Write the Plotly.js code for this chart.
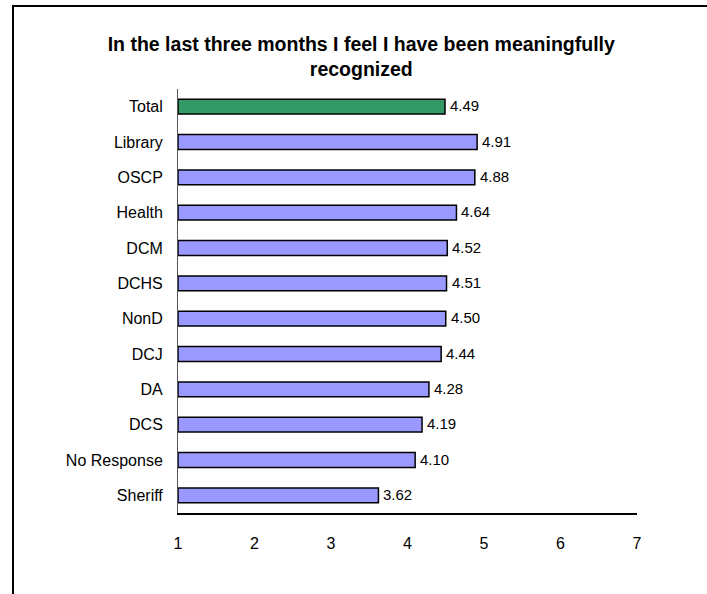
<!DOCTYPE html>
<html>
<head>
<meta charset="utf-8">
<script src="https://cdn.plot.ly/plotly-3.0.1.min.js"></script>
<style>
  html, body { margin: 0; padding: 0; background: #fff; }
  #wrap { position: relative; width: 707px; height: 594px; }
  #chart { position: absolute; left: 0; top: 0; width: 707px; height: 594px; }
  #frame { position: absolute; left: 12px; top: 5px; width: 694px; height: 600px;
           border-top: 2px solid #000; border-left: 2px solid #000; pointer-events: none; }
</style>
</head>
<body>
<div id="wrap">
  <div id="chart"></div>
  <div id="frame"></div>
</div>
<script>
const categories = ["Total", "Library", "OSCP", "Health", "DCM", "DCHS", "NonD", "DCJ", "DA", "DCS", "No Response", "Sheriff"];
const values = [4.49, 4.91, 4.88, 4.64, 4.52, 4.51, 4.50, 4.44, 4.28, 4.19, 4.10, 3.62];
const xTicks = [1, 2, 3, 4, 5, 6, 7];
const totalColor = "#339966";
const groupColor = "#9999FF";

const colors = categories.map(c => c === "Total" ? totalColor : groupColor);
const font = "Arial, 'Liberation Sans', sans-serif";

const trace = {
  type: "bar",
  orientation: "h",
  y: categories,
  base: 1,
  x: values.map(v => v - 1),
  width: 0.42,
  marker: { color: colors, line: { color: "#000", width: 1.5 } },
  cliponaxis: false,
  hoverinfo: "none"
};

const valueLabels = categories.map((c, i) => ({
  x: values[i],
  y: c,
  xref: "x",
  yref: "y",
  text: values[i].toFixed(2),
  showarrow: false,
  xanchor: "left",
  yanchor: "middle",
  xshift: 3,
  yshift: 1,
  font: { family: font, size: 15, color: "#000" }
}));

const layout = {
  width: 707,
  height: 594,
  paper_bgcolor: "#fff",
  plot_bgcolor: "#fff",
  showlegend: false,
  margin: { l: 178, r: 70, t: 89, b: 81 },
  title: {
    text: "<b>In the last three months I feel I have been meaningfully<br>recognized</b>",
    font: { family: font, size: 19.5, color: "#000" },
    xref: "container", x: 0.511, xanchor: "center",
    yref: "container", y: 0.9149, yanchor: "top"
  },
  annotations: valueLabels,
  xaxis: {
    range: [1, 7],
    tickvals: xTicks,
    ticktext: xTicks.map(String),
    showgrid: false,
    zeroline: false,
    showline: true,
    linecolor: "#000",
    linewidth: 1.5,
    ticks: "",
    ticklabelstandoff: 15,
    tickfont: { family: font, size: 16, color: "#000" }
  },
  yaxis: {
    type: "category",
    categoryorder: "array",
    categoryarray: categories,
    range: [11.5, -0.5],
    showgrid: false,
    zeroline: false,
    showline: true,
    linecolor: "#555",
    linewidth: 1,
    ticks: "",
    ticklabelstandoff: 11,
    tickfont: { family: font, size: 16, color: "#000" }
  }
};

Plotly.newPlot("chart", [trace], layout, { displayModeBar: false, staticPlot: true });
</script>
</body>
</html>
